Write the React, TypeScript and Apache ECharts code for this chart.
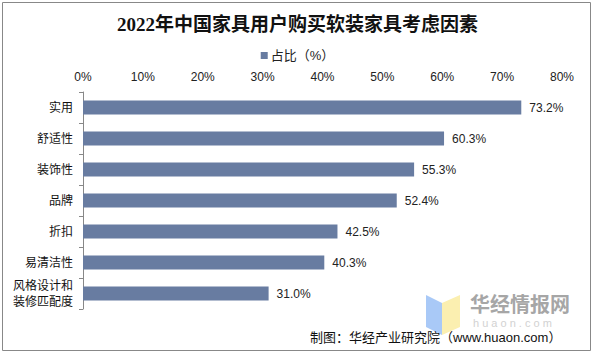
import React, { useEffect, useRef } from "react";
import * as echarts from "echarts";

const categories = ["实用", "舒适性", "装饰性", "品牌", "折扣", "易清洁性", "风格设计和\n装修匹配度"];
const values = [73.2, 60.3, 55.3, 52.4, 42.5, 40.3, 31.0];
const seriesName = "占比（%）";
const titleText = "2022年中国家具用户购买软装家具考虑因素";
const sourceText = "制图：华经产业研究院（www.huaon.com）";

export default function App() {
  const ref = useRef<HTMLDivElement>(null);
  useEffect(() => {
    if (!ref.current) return;
    const chart = echarts.init(ref.current, undefined, { renderer: "svg" });
    const font = '"Liberation Sans", Arial, "Noto Sans CJK SC", sans-serif';
    chart.setOption({
      animation: false,
      backgroundColor: "#ffffff",
      textStyle: { fontFamily: font },
      title: {
        text: titleText,
        left: "center",
        top: 10,
        textStyle: {
          fontFamily: '"Liberation Serif", "Noto Sans CJK SC", serif',
          fontSize: 19,
          fontWeight: "bold",
          color: "#111",
        },
      },
      legend: {
        top: 44,
        left: "center",
        icon: "rect",
        itemWidth: 7,
        itemHeight: 7,
        itemGap: 4,
        data: [seriesName],
        textStyle: { fontSize: 13, color: "#222", fontFamily: font, padding: [0, 0, 0, -2] },
      },
      grid: { left: 83, top: 92, right: 33, bottom: 45, containLabel: false },
      xAxis: {
        type: "value",
        position: "top",
        min: 0,
        max: 80,
        interval: 10,
        axisLine: { show: false },
        axisTick: { show: false },
        splitLine: { show: false },
        axisLabel: { formatter: "{value}%", fontSize: 12, color: "#222", margin: 9 },
      },
      yAxis: {
        type: "category",
        inverse: true,
        data: categories,
        axisLine: { show: true, lineStyle: { color: "#888", width: 1 } },
        axisTick: { show: true, length: 4, lineStyle: { color: "#888" } },
        axisLabel: { fontSize: 12, color: "#111", margin: 10, lineHeight: 16 },
      },
      series: [
        {
          name: seriesName,
          type: "bar",
          data: values,
          barWidth: 14,
          itemStyle: { color: "#687ca1" },
          label: {
            show: true,
            position: "right",
            distance: 8,
            formatter: (p: any) => p.value.toFixed(1) + "%",
            fontSize: 12,
            color: "#222",
          },
        },
      ],
      graphic: [
        {
          type: "rect",
          shape: { x: 2.5, y: 2.5, width: 588, height: 348 },
          style: { fill: "none", stroke: "#888", lineWidth: 1 },
          silent: true,
        },
        {
          type: "polygon",
          shape: { points: [[426, 295], [442, 303], [442, 335], [426, 327]] },
          style: { fill: "#a9c9f7" },
          silent: true,
        },
        {
          type: "polygon",
          shape: { points: [[442, 303], [460, 295], [460, 327], [442, 335]] },
          style: { fill: "#fbefb0" },
          silent: true,
        },
        {
          type: "text",
          x: 470,
          y: 293,
          style: {
            text: "华经情报网",
            fontSize: 20,
            fontWeight: "bold",
            fill: "#a6a6a6",
            fontFamily: '"Noto Sans CJK SC", sans-serif',
          },
          silent: true,
        },
        {
          type: "text",
          x: 473,
          y: 317,
          style: {
            text: "h u a o n . c o m",
            fontSize: 11,
            fill: "#d2d2d2",
            fontFamily: font,
          },
          silent: true,
        },
        {
          type: "text",
          x: 310,
          y: 331,
          style: {
            text: sourceText,
            fontSize: 13,
            fill: "#111",
            fontFamily: font,
          },
          silent: true,
        },
      ],
    });
    return () => chart.dispose();
  }, []);
  return (
    <div
      ref={ref}
      style={{ position: "fixed", left: 0, top: 0, width: 595, height: 354 }}
    />
  );
}
